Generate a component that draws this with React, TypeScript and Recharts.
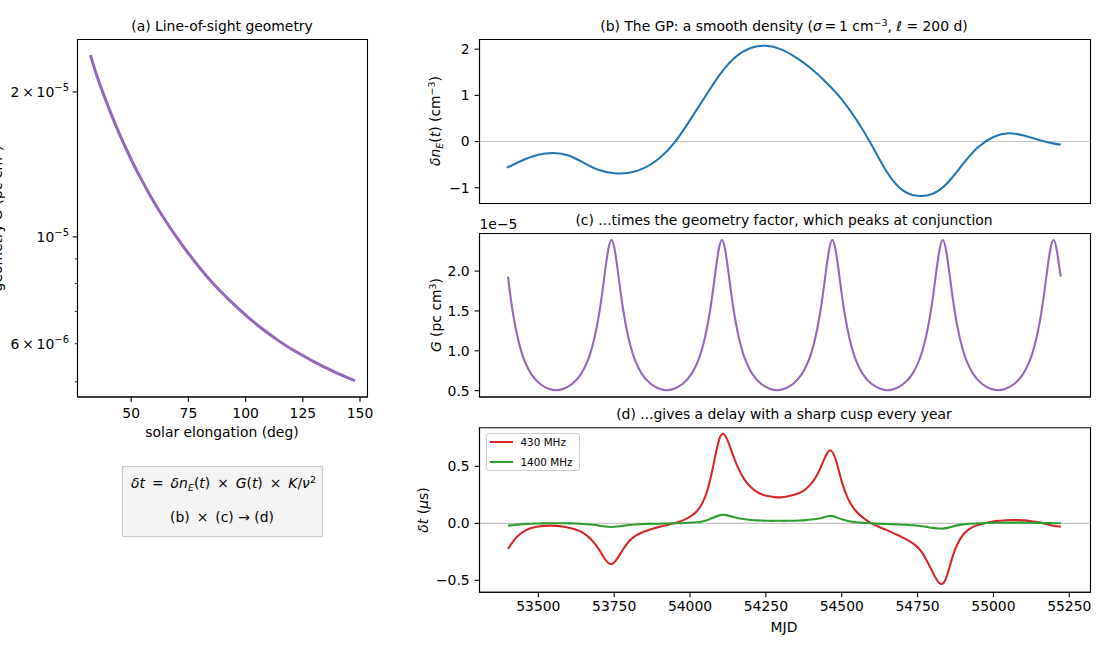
import React from 'react';
import { LineChart, Line, XAxis, YAxis, ReferenceLine, ReferenceArea, Legend } from 'recharts';

const FONT = '"DejaVu Sans", sans-serif';

// (a) geometry vs elongation
const elongation = [32.2, 35, 40, 45, 50, 55, 60, 65, 70, 75, 80, 85, 90, 95, 100, 105, 110, 115, 120, 125, 130, 135, 140, 145, 147.8];
const geometry = [2.385e-5, 2.16e-5, 1.862e-5, 1.631e-5, 1.448e-5, 1.301e-5, 1.18e-5, 1.08e-5, 9.96e-6, 9.24e-6, 8.62e-6, 8.08e-6, 7.63e-6, 7.23e-6, 6.88e-6, 6.57e-6, 6.3e-6, 6.06e-6, 5.85e-6, 5.67e-6, 5.5e-6, 5.35e-6, 5.21e-6, 5.09e-6, 5.03e-6];

// (b) the density
const densityMjd = [53396, 53450, 53500, 53550, 53600, 53650, 53700, 53750, 53800, 53850, 53900, 53950, 54000, 54050, 54100, 54150, 54200, 54250, 54300, 54350, 54400, 54450, 54500, 54550, 54600, 54650, 54700, 54750, 54800, 54850, 54900, 54950, 55000, 55050, 55100, 55150, 55200, 55222];
const density = [-0.565, -0.4, -0.285, -0.247, -0.3, -0.46, -0.615, -0.685, -0.675, -0.57, -0.355, -0.012, 0.464, 0.975, 1.465, 1.83, 2.025, 2.072, 1.995, 1.815, 1.575, 1.275, 0.915, 0.455, -0.09, -0.67, -1.05, -1.175, -1.13, -0.885, -0.485, -0.12, 0.1, 0.18, 0.13, 0.035, -0.045, -0.065];

// (c) the geometry factor over time, in units of 1e-5
const geomMjd = [
  53400, 53406, 53416, 53426, 53436, 53446, 53456, 53476, 53506, 53536, 53559,
  53581, 53611, 53641, 53661, 53671, 53681, 53691, 53701, 53711, 53721, 53731, 53741,
  53751, 53761, 53771, 53781, 53791, 53801, 53811, 53821, 53841, 53871, 53901, 53923,
  53945, 53975, 54005, 54025, 54035, 54045, 54055, 54065, 54075, 54085, 54095, 54105,
  54115, 54125, 54135, 54145, 54155, 54165, 54175, 54185, 54205, 54235, 54265, 54287,
  54309, 54339, 54369, 54389, 54399, 54409, 54419, 54429, 54439, 54449, 54459, 54469,
  54479, 54489, 54499, 54509, 54519, 54529, 54539, 54549, 54569, 54599, 54629, 54651,
  54673, 54703, 54733, 54753, 54763, 54773, 54783, 54793, 54803, 54813, 54823, 54833,
  54843, 54853, 54863, 54873, 54883, 54893, 54903, 54913, 54933, 54963, 54993, 55016,
  55038, 55068, 55098, 55118, 55128, 55138, 55148, 55158, 55168, 55178, 55188, 55198,
  55208, 55218, 55222,
];
const geomValues = [
  1.93, 1.74, 1.48, 1.27, 1.1, 0.965, 0.86, 0.71, 0.583, 0.52, 0.505,
  0.52, 0.583, 0.71, 0.86, 0.965, 1.1, 1.27, 1.48, 1.74, 2.03, 2.28, 2.39,
  2.28, 2.03, 1.74, 1.48, 1.27, 1.1, 0.965, 0.86, 0.71, 0.583, 0.52, 0.505,
  0.52, 0.583, 0.71, 0.86, 0.965, 1.1, 1.27, 1.48, 1.74, 2.03, 2.28, 2.39,
  2.28, 2.03, 1.74, 1.48, 1.27, 1.1, 0.965, 0.86, 0.71, 0.583, 0.52, 0.505,
  0.52, 0.583, 0.71, 0.86, 0.965, 1.1, 1.27, 1.48, 1.74, 2.03, 2.28, 2.39,
  2.28, 2.03, 1.74, 1.48, 1.27, 1.1, 0.965, 0.86, 0.71, 0.583, 0.52, 0.505,
  0.52, 0.583, 0.71, 0.86, 0.965, 1.1, 1.27, 1.48, 1.74, 2.03, 2.28, 2.39,
  2.28, 2.03, 1.74, 1.48, 1.27, 1.1, 0.965, 0.86, 0.71, 0.583, 0.52, 0.505,
  0.52, 0.583, 0.71, 0.86, 0.965, 1.1, 1.27, 1.48, 1.74, 2.03, 2.28, 2.39,
  2.28, 2.03, 1.93,
];

// (d) the delays
const delayMjd = [
  53400, 53420, 53440, 53460, 53480, 53500, 53520, 53540, 53560, 53580,
  53600, 53620, 53640, 53660, 53680, 53700, 53720, 53740, 53760, 53780,
  53800, 53820, 53840, 53860, 53880, 53900, 53920, 53940, 53960, 53980,
  54000, 54020, 54040, 54060, 54080, 54100, 54120, 54140, 54160, 54180,
  54200, 54220, 54240, 54260, 54280, 54300, 54320, 54340, 54360, 54380,
  54400, 54420, 54440, 54460, 54480, 54500, 54520, 54540, 54560, 54580,
  54600, 54620, 54640, 54660, 54680, 54700, 54720, 54740, 54760, 54780,
  54800, 54820, 54840, 54860, 54880, 54900, 54920, 54940, 54960, 54980,
  55000, 55020, 55040, 55060, 55080, 55100, 55120, 55140, 55160, 55180,
  55200, 55222,
];
const delay430 = [
  -0.225, -0.148, -0.094, -0.06, -0.039, -0.028, -0.022, -0.02, -0.022, -0.028,
  -0.038, -0.052, -0.073, -0.108, -0.158, -0.23, -0.315, -0.358, -0.31, -0.225,
  -0.155, -0.11, -0.082, -0.062, -0.046, -0.03, -0.016, -0.004, 0.01, 0.03,
  0.058, 0.1, 0.175, 0.315, 0.55, 0.765, 0.75, 0.61, 0.478, 0.382,
  0.318, 0.275, 0.25, 0.238, 0.23, 0.228, 0.235, 0.248, 0.266, 0.297,
  0.35, 0.43, 0.55, 0.64, 0.56, 0.368, 0.22, 0.13, 0.072, 0.03,
  -0.003, -0.028, -0.05, -0.073, -0.098, -0.123, -0.152, -0.187, -0.24, -0.325,
  -0.43, -0.52, -0.505, -0.34, -0.19, -0.1, -0.05, -0.022, -0.005, 0.007,
  0.016, 0.022, 0.027, 0.029, 0.028, 0.026, 0.021, 0.014, 0.004, -0.01,
  -0.023, -0.029,
];
const delay1400 = [
  -0.02, -0.014, -0.009, -0.005, -0.003, -0.001, 0, 0.001, 0.001, 0.001,
  0, -0.002, -0.005, -0.008, -0.013, -0.02, -0.028, -0.032, -0.028, -0.021,
  -0.014, -0.01, -0.007, -0.005, -0.004, -0.003, -0.001, 0, 0.001, 0.003,
  0.006, 0.01, 0.017, 0.031, 0.053, 0.072, 0.072, 0.057, 0.045, 0.036,
  0.03, 0.026, 0.024, 0.022, 0.022, 0.022, 0.022, 0.023, 0.025, 0.028,
  0.033, 0.04, 0.052, 0.065, 0.055, 0.035, 0.021, 0.012, 0.007, 0.003,
  0, -0.003, -0.005, -0.007, -0.009, -0.012, -0.014, -0.018, -0.023, -0.031,
  -0.04, -0.046, -0.044, -0.032, -0.018, -0.009, -0.004, -0.001, 0.001, 0.003,
  0.004, 0.005, 0.006, 0.006, 0.006, 0.006, 0.005, 0.004, 0.003, 0.002,
  0.001, 0.001,
];

const elongationTicks = [50, 75, 100, 125, 150];
const geometryTicks = [2e-5, 1e-5, 9e-6, 8e-6, 7e-6, 6e-6, 5e-6];
const mjdTicks = [53500, 53750, 54000, 54250, 54500, 54750, 55000, 55250];
const densityTicks = [-1, 0, 1, 2];
const geomTicks = [0.5, 1.0, 1.5, 2.0];
const delayTicks = [-0.5, 0, 0.5];

const MJD_DOMAIN: [number, number] = [53306, 55320];
const zip = (xs: number[], ys: number[]) => xs.map((x, i) => ({ x, y: ys[i] }));
const zip2 = (xs: number[], a: number[], b: number[]) => xs.map((x, i) => ({ x, a: a[i], b: b[i] }));

const TICK = { fontSize: 13.9, fill: '#000', fontFamily: FONT };
const TICK_LINE = { stroke: '#000', strokeWidth: 1.1 };
const AXIS_LINE = { stroke: '#000', strokeWidth: 1.1 };
const TITLE = 13.9;
const LABEL = 13.9;

const minus = (s: string) => s.replace('-', '\u2212');

function GeometryTick({ x, y, payload }: any) {
  const v = payload.value;
  const major = v === 1e-5 || v === 2e-5;
  const len = major ? 4.9 : 2.8;
  const line = <line x1={x - len} x2={x} y1={y} y2={y} stroke="#000" strokeWidth={major ? 1.1 : 0.8} />;
  const tx = x - 8.5;
  const ty = y + 5;
  const sup = (t: string) => <tspan dy={-6} fontSize={10}>{t}</tspan>;
  let label = null;
  if (v === 2e-5) label = <text x={tx} y={ty} textAnchor="end" fontSize={13.9} fill="#000">2{'\u2009'}×{'\u2009'}10{sup('\u22125')}</text>;
  if (v === 1e-5) label = <text x={tx} y={ty} textAnchor="end" fontSize={13.9} fill="#000">10{sup('\u22125')}</text>;
  if (v === 6e-6) label = <text x={tx} y={ty} textAnchor="end" fontSize={13.9} fill="#000">6{'\u2009'}×{'\u2009'}10{sup('\u22126')}</text>;
  return <g>{line}{label}</g>;
}

const Title = ({ x, y, children }: any) => (
  <text x={x} y={y} textAnchor="middle" fontSize={TITLE} fontFamily={FONT} fill="#000">{children}</text>
);
const I = ({ children }: any) => <tspan fontStyle="italic">{children}</tspan>;

const Frame = ({ x, y }: { x: [number, number]; y: [number, number] }) => (
  <ReferenceArea x1={x[0]} x2={x[1]} y1={y[0]} y2={y[1]} fill="none" stroke="#000" strokeWidth={1.1} fillOpacity={0} ifOverflow="visible" />
);

const VText = ({ x, y, children }: any) => (
  <text transform={`rotate(-90 ${x} ${y})`} x={x} y={y} textAnchor="middle" fontSize={LABEL} fontFamily={FONT} fill="#000">{children}</text>
);

function LegendBox({ payload }: any) {
  return (
    <div style={{ background: '#fff', border: '1px solid #ccc', borderRadius: 3, padding: '0 5px 0 3px', fontFamily: FONT, fontSize: 10.4, color: '#000', width: 84, height: 36, boxSizing: 'content-box' }}>
      {(payload || []).map((p: any, i: number) => (
        <div key={p.value} style={{ display: 'flex', alignItems: 'center', height: 20, marginTop: i === 0 ? -2 : 0, whiteSpace: 'nowrap' }}>
          <span style={{ display: 'inline-block', width: 23, height: 2, background: p.color, marginRight: 8 }} />
          {p.value}
        </div>
      ))}
    </div>
  );
}

const abs = (left: number, top: number): React.CSSProperties => ({ position: 'absolute', left, top });

export default function App() {
  const aDomainY: [number, number] = [4.65e-6, 2.57e-5];
  const aDomainX: [number, number] = [26.54, 153.27];
  const bDomainY: [number, number] = [-1.341, 2.209];
  const cDomainY: [number, number] = [0.42, 2.472];
  const dDomainY: [number, number] = [-0.605, 0.839];
  const en = '\u2002';
  return (
    <div style={{ position: 'absolute', left: 0, top: 0, width: 1100, height: 650, background: '#fff', overflow: 'hidden', fontFamily: FONT }}>
      {/* (a) */}
      <div style={abs(0, 0)}>
        <LineChart width={395} height={450} data={zip(elongation, geometry)} margin={{ top: 39.5, right: 27.5, bottom: 0, left: 0 }}>
          <XAxis
            dataKey="x" type="number" domain={aDomainX} ticks={elongationTicks} allowDataOverflow interval={0}
            height={53} tickSize={4.9} tickMargin={6} tick={TICK} tickLine={TICK_LINE} axisLine={AXIS_LINE}
            label={() => <text x={222} y={437} textAnchor="middle" fontSize={LABEL} fontFamily={FONT} fill="#000">solar elongation (deg)</text>}
          />
          <YAxis
            type="number" scale="log" domain={aDomainY} ticks={geometryTicks} allowDataOverflow interval={0}
            width={77.5} tickSize={0} tickMargin={0} tick={<GeometryTick />} tickLine={false} axisLine={AXIS_LINE}
            label={() => <VText x={1.5} y={218.5}>geometry <I>G</I> (pc cm<tspan dy={-5} fontSize={9.5}>3</tspan><tspan dy={5}>)</tspan></VText>}
          />
          <Line dataKey="y" type="natural" stroke="#9467bd" strokeWidth={3} dot={false} isAnimationActive={false} />
          <Frame x={aDomainX} y={aDomainY} />
          <Title x={222} y={31}>(a) Line-of-sight geometry</Title>
        </LineChart>
      </div>

      {/* equation box */}
      <svg width={1100} height={650} style={{ ...abs(0, 0), pointerEvents: 'none' }}>
        <rect x={122.5} y={466.5} width={200} height={70} fill="#f4f4f4" stroke="#ccc" strokeWidth={1.2} />
        <text x={223.5} y={488} textAnchor="middle" fontSize={13.9} fontFamily={FONT} fill="#000">
          <I>δt</I>{`${en}=${en}`}<I>δn</I><tspan fontSize={9.5} dy={3} fontStyle="italic">E</tspan><tspan dy={-3}>(</tspan><I>t</I>){`${en}×${en}`}<I>G</I>(<I>t</I>){`${en}×${en}`}<I>K</I>/<I>ν</I><tspan dy={-5} fontSize={9.5}>2</tspan>
        </text>
        <text x={222} y={522} textAnchor="middle" fontSize={13.9} fontFamily={FONT} fill="#000">(b){`${en}×${en}`}(c) → (d)</text>
      </svg>

      {/* (b) */}
      <div style={abs(400, 0)}>
        <LineChart width={700} height={220} data={zip(densityMjd, density)} margin={{ top: 39.5, right: 9.5, bottom: 0, left: 0 }}>
          <XAxis dataKey="x" type="number" domain={MJD_DOMAIN} ticks={mjdTicks} allowDataOverflow interval={0} height={16.5} tickSize={4.9} tick={false} tickLine={TICK_LINE} axisLine={AXIS_LINE} />
          <YAxis
            type="number" domain={bDomainY} ticks={densityTicks} allowDataOverflow interval={0} width={79.5}
            tickSize={4.9} tickMargin={4.9} tick={TICK} tickLine={TICK_LINE} axisLine={AXIS_LINE}
            tickFormatter={(v: number) => minus(String(v))}
            label={() => <VText x={40} y={121}><I>δn</I><tspan fontSize={9.5} dy={3} fontStyle="italic">E</tspan><tspan dy={-3}>(</tspan><I>t</I>) (cm<tspan dy={-5} fontSize={9.5}>−3</tspan><tspan dy={5}>)</tspan></VText>}
          />
          <ReferenceLine y={0} stroke="#c4c4c4" strokeWidth={1.1} />
          <Line dataKey="y" type="natural" stroke="#1f77b4" strokeWidth={2.08} dot={false} isAnimationActive={false} />
          <Frame x={MJD_DOMAIN} y={bDomainY} />
          <Title x={384} y={31}>(b) The GP: a smooth density (<I>σ</I>{'\u2009=\u2009'}1 cm<tspan dy={-5} fontSize={9.5}>−3</tspan><tspan dy={5}>, </tspan><I>ℓ</I> = 200 d)</Title>
        </LineChart>
      </div>

      {/* (c) */}
      <div style={abs(400, 200)}>
        <LineChart width={700} height={214} data={zip(geomMjd, geomValues)} margin={{ top: 33.5, right: 9.5, bottom: 0, left: 0 }}>
          <XAxis dataKey="x" type="number" domain={MJD_DOMAIN} ticks={mjdTicks} allowDataOverflow interval={0} height={17} tickSize={4.9} tick={false} tickLine={TICK_LINE} axisLine={AXIS_LINE} />
          <YAxis
            type="number" domain={cDomainY} ticks={geomTicks} allowDataOverflow interval={0} width={79.5}
            tickSize={4.9} tickMargin={4.9} tick={TICK} tickLine={TICK_LINE} axisLine={AXIS_LINE}
            tickFormatter={(v: number) => v.toFixed(1)}
            label={() => <VText x={41} y={115}><I>G</I> (pc cm<tspan dy={-5} fontSize={9.5}>3</tspan><tspan dy={5}>)</tspan></VText>}
          />
          <Line dataKey="y" type="natural" stroke="#9467bd" strokeWidth={2.08} dot={false} isAnimationActive={false} />
          <Frame x={MJD_DOMAIN} y={cDomainY} />
          <Title x={384} y={24.5}>(c) ...times the geometry factor, which peaks at conjunction</Title>
          <text x={79.5} y={28.5} fontSize={13.9} fontFamily={FONT} fill="#000">1e−5</text>
        </LineChart>
      </div>

      {/* (d) */}
      <div style={abs(400, 395)}>
        <LineChart width={700} height={255} data={zip2(delayMjd, delay430, delay1400)} margin={{ top: 32.7, right: 9.5, bottom: 0, left: 0 }}>
          <XAxis
            dataKey="x" type="number" domain={MJD_DOMAIN} ticks={mjdTicks} allowDataOverflow interval={0} height={57.7}
            tickSize={4.9} tickMargin={4} tick={TICK} tickLine={TICK_LINE} axisLine={AXIS_LINE}
            label={() => <text x={384} y={237} textAnchor="middle" fontSize={LABEL} fontFamily={FONT} fill="#000">MJD</text>}
          />
          <YAxis
            type="number" domain={dDomainY} ticks={delayTicks} allowDataOverflow interval={0} width={79.5}
            tickSize={4.9} tickMargin={4.9} tick={TICK} tickLine={TICK_LINE} axisLine={AXIS_LINE}
            tickFormatter={(v: number) => minus(v.toFixed(1))}
            label={() => <VText x={28} y={115}><I>δt</I> (<I>μ</I>s)</VText>}
          />
          <ReferenceLine y={0} stroke="#c4c4c4" strokeWidth={1.1} />
          <Line dataKey="a" name="430 MHz" type="natural" stroke="#d62728" strokeWidth={2.08} dot={false} isAnimationActive={false} />
          <Line dataKey="b" name="1400 MHz" type="natural" stroke="#2ca02c" strokeWidth={2.08} dot={false} isAnimationActive={false} />
          <Frame x={MJD_DOMAIN} y={dDomainY} />
          <Title x={384} y={24}>(d) ...gives a delay with a sharp cusp every year</Title>
          <Legend layout="vertical" align="center" verticalAlign="middle" itemSorter={null as any} content={<LegendBox />} wrapperStyle={{ left: 85.5, top: 38, width: 94 }} />
        </LineChart>
      </div>
    </div>
  );
}
